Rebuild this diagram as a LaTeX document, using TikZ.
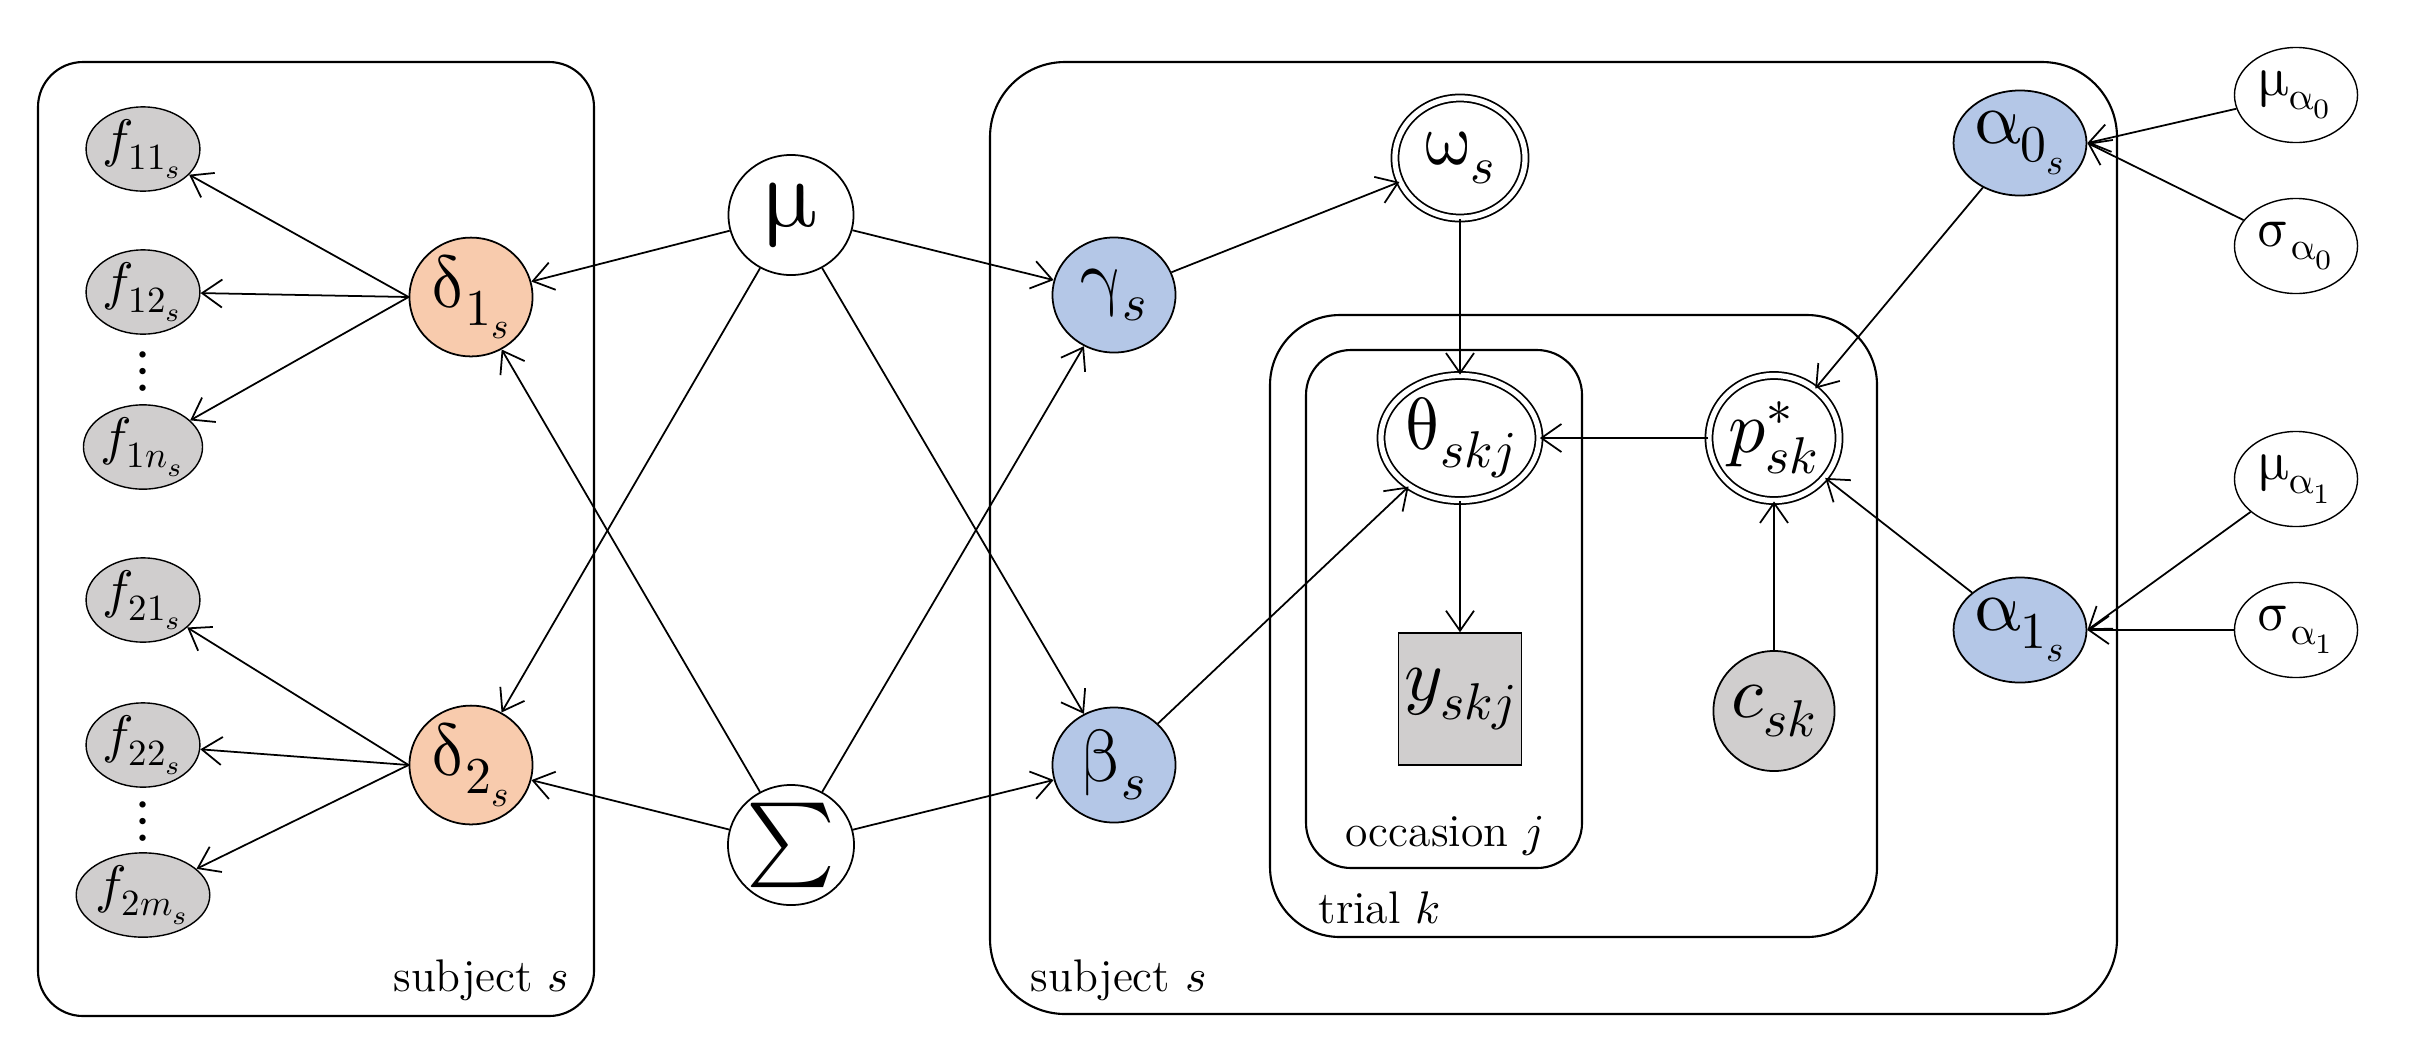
\documentclass[tikz,border=0pt]{standalone}
\usepackage{unicode-math}
\setmathfont{Latin Modern Math}
\usetikzlibrary{arrows.meta,shapes.geometric}
\definecolor{orn}{HTML}{F8CBAD}
\definecolor{blu}{HTML}{B4C7E7}
\definecolor{gry}{HTML}{D0CECE}
\begin{document}
\begin{tikzpicture}[x=0.01cm,y=-0.01cm,
  v/.style={ellipse,draw,line width=0.5pt,minimum width=1.23cm,minimum height=1.15cm,inner sep=0pt,font=\fontsize{21}{21}\selectfont},
  f/.style={ellipse,draw,fill=gry,minimum width=1.0cm,minimum height=0.82cm,inner sep=0pt,font=\fontsize{15}{15}\selectfont},
  hp/.style={ellipse,draw,minimum width=1.23cm,minimum height=0.95cm,inner sep=0pt,font=\fontsize{16}{16}\selectfont},
  dbl/.style={v,double,double distance=1.5pt},
  plate/.style={draw,line width=0.6pt},
  e/.style={-{Straight Barb[length=0.2cm,width=0.28cm]},line width=0.5pt},
  lab/.style={font=\fontsize{13}{13}\selectfont,inner sep=0pt}]
\useasboundingbox (0,0) rectangle (2409,1060);
% plates
\draw[plate,rounded corners=0.45cm] (38,62) rectangle (594,1016);
\draw[plate,rounded corners=0.75cm] (990,62) rectangle (2117,1014);
\draw[plate,rounded corners=0.7cm] (1270,315) rectangle (1877,937);
\draw[plate,rounded corners=0.45cm] (1306,350) rectangle (1582,868);
\node[lab,anchor=south east] (ls1) at (570,1002) {subject $s$};
\node[lab,anchor=south west] (ls2) at (1030,1002) {subject $s$};
\node[lab,anchor=south west] (lt) at (1318,925) {trial $k$};
\node[lab,anchor=south] (lo) at (1444,857) {occasion $j$};
% left nodes
\node[f] (f11) at (143,149) {$f_{11_s}$};
\node[f] (f12) at (143,292) {$f_{12_s}$};
\node[font=\fontsize{17}{17}\selectfont] (d1) at (143,372) {$\vdots$};
\node[f] (f1n) at (143,447) {$f_{1n_s}$};
\node[f] (f21) at (143,600) {$f_{21_s}$};
\node[f] (f22) at (143,745) {$f_{22_s}$};
\node[font=\fontsize{17}{17}\selectfont] (d2) at (143,822) {$\vdots$};
\node[f] (f2m) at (143,895) {$f_{2m_s}$};
\node[v,fill=orn] (del1) at (471,297) {$\symup{\delta}_{1_s}$};
\node[v,fill=orn] (del2) at (471,765) {$\symup{\delta}_{2_s}$};
\node[v,minimum width=1.25cm,minimum height=1.2cm,font=\fontsize{28}{28}\selectfont] (mu) at (791,215) {$\symup{\mu}$};
\node[v,minimum width=1.25cm,minimum height=1.2cm,font=\fontsize{24}{24}\selectfont] (Sig) at (791,845) {$\sum$};
% right nodes
\node[v,fill=blu] (gam) at (1114,295) {$\symup{\gamma}_s$};
\node[v,fill=blu] (bet) at (1114,765) {$\symup{\beta}_s$};
\node[dbl,minimum width=1.3cm,minimum height=1.2cm] (om) at (1460,158) {$\symup{\omega}_s$};
\node[dbl,minimum width=1.3cm,minimum height=1.25cm] (th) at (1460,438) {$\symup{\theta}_{skj}$};
\node[draw,fill=gry,minimum width=1.23cm,minimum height=1.32cm,inner sep=0pt,font=\fontsize{21}{21}\selectfont] (y) at (1460,699) {$y_{skj}$};
\node[dbl,minimum width=1.3cm,minimum height=1.25cm] (p) at (1774,438) {$p^*_{sk}$};
\node[v,fill=gry,minimum width=1.2cm,minimum height=1.2cm] (c) at (1774,711) {$c_{sk}$};
\node[v,fill=blu,minimum width=1.25cm,minimum height=1.05cm] (a0) at (2020,143) {$\symup{\alpha}_{0_s}$};
\node[v,fill=blu,minimum width=1.25cm,minimum height=1.05cm] (a1) at (2020,630) {$\symup{\alpha}_{1_s}$};
\node[hp] (ma0) at (2296,95) {$\symup{\mu}_{\symup{\alpha}_0}$};
\node[hp] (sa0) at (2296,246) {$\symup{\sigma}_{\symup{\alpha}_0}$};
\node[hp] (ma1) at (2296,479) {$\symup{\mu}_{\symup{\alpha}_1}$};
\node[hp] (sa1) at (2296,630) {$\symup{\sigma}_{\symup{\alpha}_1}$};
% edges
\foreach \t in {f11,f12,f1n} \draw[e] (del1.west) -- (\t);
\foreach \t in {f21,f22,f2m} \draw[e] (del2.west) -- (\t);
\foreach \t in {del1,del2,gam,bet} {\draw[e] (mu) -- (\t); \draw[e] (Sig) -- (\t);}
\draw[e] (gam) -- (om);
\draw[e] (om) -- (th);
\draw[e] (bet) -- (th);
\draw[e] (p) -- (th);
\draw[e] (th) -- (y);
\draw[e] (c) -- (p);
\draw[e] (a0) -- (p);
\draw[e] (a1) -- (p);
\draw[e] (ma0) -- (a0.east);
\draw[e] (sa0) -- (a0.east);
\draw[e] (ma1) -- (a1.east);
\draw[e] (sa1) -- (a1.east);
\end{tikzpicture}
\end{document}
